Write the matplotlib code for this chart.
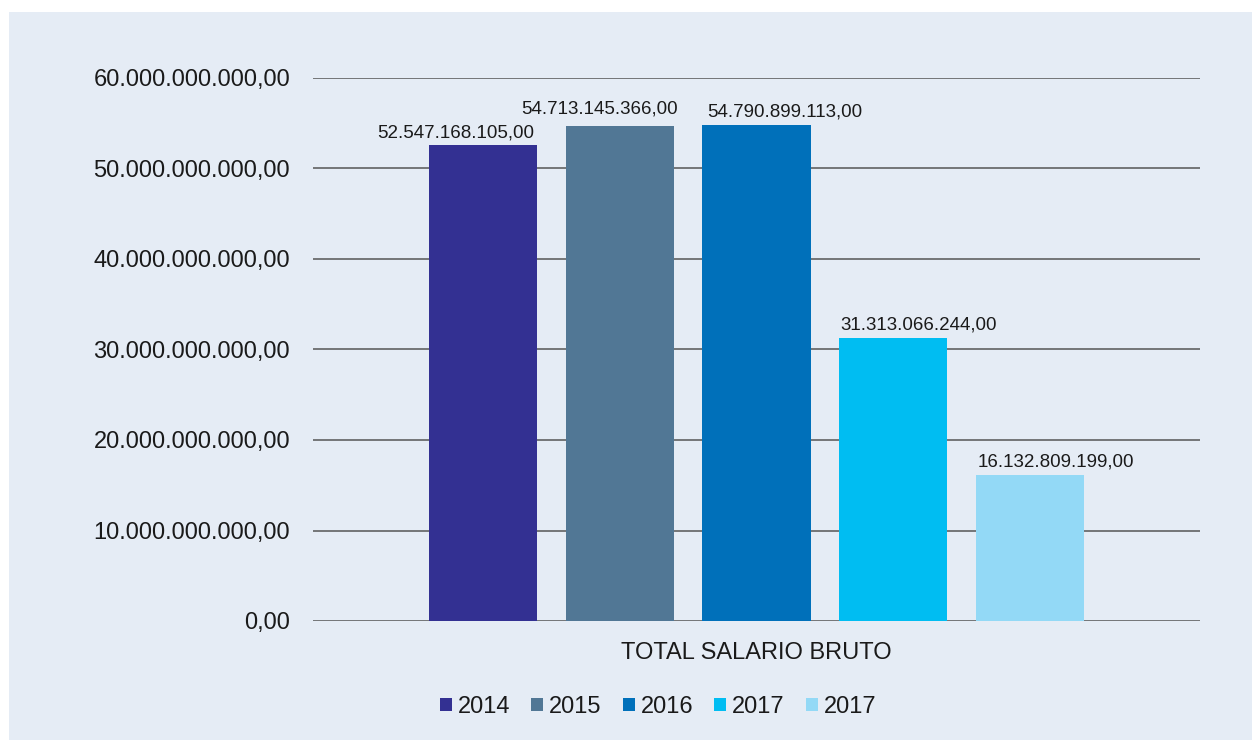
import matplotlib
matplotlib.use("Agg")
import matplotlib.pyplot as plt
from matplotlib.patches import Rectangle, Patch

categories = ["TOTAL SALARIO BRUTO"]
series_names = ["2014", "2015", "2016", "2017", "2017"]
values = [52547168105.00, 54713145366.00, 54790899113.00, 31313066244.00, 16132809199.00]
value_labels = ["52.547.168.105,00", "54.713.145.366,00", "54.790.899.113,00",
                "31.313.066.244,00", "16.132.809.199,00"]
yticks = [0, 10e9, 20e9, 30e9, 40e9, 50e9, 60e9]
ytick_labels = ["0,00", "10.000.000.000,00", "20.000.000.000,00", "30.000.000.000,00",
                "40.000.000.000,00", "50.000.000.000,00", "60.000.000.000,00"]

colors = ["#333092", "#517795", "#0070BA", "#00BDF2", "#93D9F6"]
label_offsets = [(-20, 3), (-15, 6), (20, 3), (18, 3), (19, 3)]  # points

plt.rcParams['font.family'] = ['Liberation Sans', 'DejaVu Sans']

fig = plt.figure(figsize=(12.52, 7.40), dpi=100)
fig.patch.set_facecolor("white")
fig.add_artist(Rectangle((9 / 1252, 0), 1 - 9 / 1252, 1 - 12 / 740,
                         transform=fig.transFigure, facecolor="#E5ECF5",
                         edgecolor="none", zorder=-10))

ax = fig.add_axes([313 / 1252, 1 - 621 / 740, (1200 - 313) / 1252, (621 - 78) / 740])
ax.set_facecolor("none")

width = 0.122
step = 0.154
for i, (v, c, lab, off) in enumerate(zip(values, colors, value_labels, label_offsets)):
    x = (i - 2) * step
    ax.bar(x, v, width=width, color=c, zorder=3)
    ax.annotate(lab, xy=(x, v), xytext=off, textcoords="offset points",
                ha="center", va="bottom", fontsize=13.5, color="#1a1a1a")

ax.set_xlim(-0.5, 0.5)
ax.set_ylim(0, 60e9)
ax.set_yticks(yticks)
ax.set_yticklabels(ytick_labels, fontsize=17, color="#1a1a1a")
ax.set_xticks([0])
ax.set_xticklabels(categories, fontsize=17, color="#1a1a1a")
ax.tick_params(axis="y", length=0, pad=16.5)
ax.tick_params(axis="x", length=0, pad=15)
for s in ax.spines.values():
    s.set_visible(False)
ax.grid(axis="y", color="#555555", linewidth=1.1, zorder=1)
ax.set_axisbelow(True)

handles = [Patch(facecolor=c, edgecolor="none") for c in colors]
fig.legend(handles, series_names, loc="center", bbox_to_anchor=(658 / 1252, 1 - 707 / 740),
           ncol=5, frameon=False, fontsize=17, handlelength=0.5, handleheight=0.5,
           handletextpad=0.25, columnspacing=0.9, labelcolor="#1a1a1a")

fig.savefig("out.png", dpi=100)
